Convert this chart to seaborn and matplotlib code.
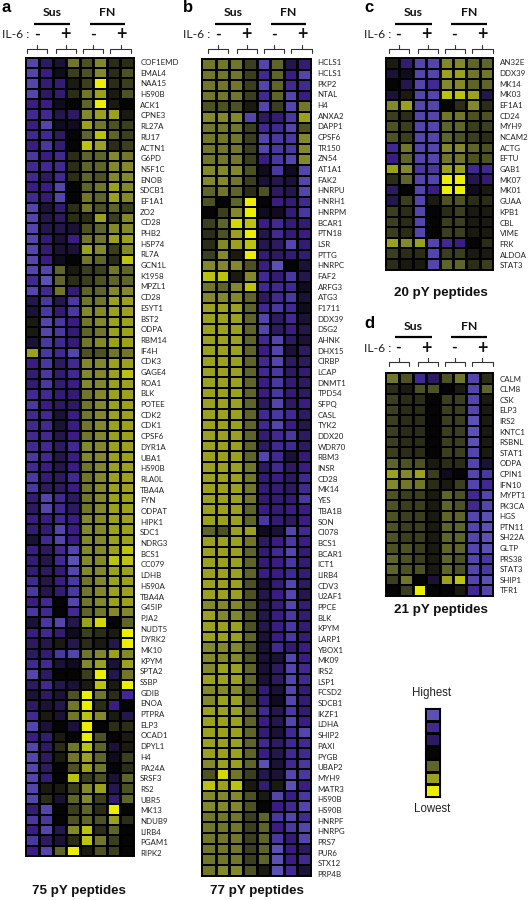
import numpy as np
import matplotlib
matplotlib.use("Agg")
import matplotlib.pyplot as plt
from matplotlib.colors import LinearSegmentedColormap
import seaborn as sns

# ---------- data (scale: +10 = highest / blue, -10 = lowest / yellow) ----------
labels_a = ["COF1EMD","EMAL4","NAA15","HS90B","ACK1","CPNE3","RL27A","RU17","ACTN1","G6PD","NSF1C","ENOB","SDCB1","EF1A1","ZO2","CD28","PHB2","HSP74","RL7A","GCN1L","K1958","MPZL1","CD28","ESYT1","BST2","ODPA","RBM14","IF4H","CDK3","GAGE4","ROA1","BLK","POTEE","CDK2","CDK1","CPSF6","DYR1A","UBA1","HS90B","RLA0L","TBA4A","FYN","ODPAT","HIPK1","SDC1","NDRG3","BCS1","CC079","LDHB","HS90A","TBA4A","G45IP","PJA2","NUDT5","DYRK2","MK10","KPYM","SPTA2","SSBP","GDIB","ENOA","PTPRA","ELP3","OCAD1","DPYL1","H4","PA24A","SRSF3","RS2","UBR5","MK13","NDUB9","LIRB4","PGAM1","RIPK2"]
labels_b = ["HCLS1","HCLS1","PKP2","NTAL","H4","ANXA2","DAPP1","CPSF6","TR150","ZN54","AT1A1","FAK2","HNRPU","HNRH1","HNRPM","BCAR1","PTN18","LSR","PTTG","HNRPC","FAF2","ARFG3","ATG3","F1711","DDX39","DSG2","AHNK","DHX15","CIRBP","LCAP","DNMT1","TPD54","SFPQ","CASL","TYK2","DDX20","WDR70","RBM3","INSR","CD28","MK14","YES","TBA1B","SON","CI078","BCS1","BCAR1","ICT1","LIRB4","CDV3","U2AF1","PPCE","BLK","KPYM","LARP1","YBOX1","MK09","IRS2","LSP1","FCSD2","SDCB1","IKZF1","LDHA","SHIP2","PAXI","PYGB","UBAP2","MYH9","MATR3","HS90B","HS90B","HNRPF","HNRPG","PRS7","PUR6","STX12","PRP4B"]
labels_c = ["AN32E","DDX39","MK14","MK03","EF1A1","CD24","MYH9","NCAM2","ACTG","EFTU","GAB1","MK07","MK01","GUAA","KPB1","CBL","VIME","FRK","ALDOA","STAT3"]
labels_d = ["CALM","CLM8","CSK","ELP3","IRS2","KNTC1","RSBNL","STAT1","ODPA","CPIN1","IFN10","MYPT1","PK3CA","HGS","PTN11","SH22A","GLTP","PRS38","STAT3","SHIP1","TFR1"]

values_a = [
[9,4,2,-6,-4,-7,-2,-2],[9,6,1,-3,-4,-7,-2,-4],[9,5,5,-1,-3,-10,-2,-3],[9,4,5,-2,-6,-8,-1,-4],
[6,6,1,0,-5,-10,-1,0],[7,7,3,4,-7,-8,-8,-1],[6,9,1,1,-8,-6,-4,-3],[7,7,4,0,-5,-9,-5,-3],
[6,8,5,0,-9,-8,-2,-3],[8,6,7,-2,-5,-5,-7,-6],[7,7,7,-2,-5,-5,-7,-7],[7,4,7,-2,-5,-4,-7,-7],
[6,6,9,0,-5,-6,-8,-7],[7,5,9,0,-6,-5,-8,-7],[9,2,5,-2,-6,-4,-5,-3],[9,3,4,-2,-2,-8,-3,-7],
[9,3,3,2,-4,-5,-7,-7],[9,5,2,6,-6,-6,-8,-8],[9,5,2,2,-8,-7,-3,-7],[9,6,1,0,-6,-5,-2,-9],
[9,9,-5,-1,-3,-3,-6,-5],[7,10,-5,-2,-3,-4,-5,-5],[9,7,-6,5,-5,-5,-7,-7],[3,8,3,8,-6,-6,-8,-8],
[2,8,5,8,-7,-7,-8,-8],[-1,9,8,6,-6,-7,-8,-8],[-1,9,8,5,-5,-6,-8,-8],[2,8,7,5,-6,-7,-8,-8],
[-8,8,7,9,-4,-4,-6,-6],[6,8,4,7,-7,-7,-8,-8],[5,8,5,7,-7,-7,-8,-9],[5,8,5,6,-7,-7,-8,-8],
[7,7,5,5,-6,-7,-8,-8],[8,6,4,4,-6,-7,-8,-8],[7,7,2,6,-6,-7,-8,-8],[7,7,2,6,-6,-7,-8,-8],
[7,7,3,6,-6,-7,-8,-8],[7,7,4,7,-7,-7,-8,-8],[8,7,3,6,-7,-7,-8,-8],[7,6,3,6,-6,-7,-8,-8],
[8,5,4,7,-6,-7,-8,-8],[8,4,4,6,-6,-7,-8,-8],[5,9,7,4,-6,-7,-8,-8],[4,9,7,4,-6,-7,-8,-8],
[6,6,7,6,-7,-7,-8,-8],[5,5,9,6,-7,-7,-8,-8],[2,7,9,6,-7,-7,-8,-8],[6,4,7,9,-7,-7,-8,-9],
[5,3,7,10,-7,-7,-9,-9],[5,4,5,9,-7,-7,-8,-8],[7,3,6,8,-6,-7,-8,-8],[8,3,5,8,-6,-7,-8,-8],
[6,7,0,9,-6,-7,-8,-8],[8,7,0,7,-5,-6,-7,-7],[2,8,9,3,-8,-9.5,0,-5],[6,7,5,1,-3,-2,-1,-10],
[4,3,-1,3,-2,-1,3,-10],[4,5,8,9,-6,-7,-8,-7],[7,7,2,1,-7,-8,2,-8],[9,4,0,0,-3,-10,3,-6],
[4,7,3,2,-1,-9,-1,-10],[2,4,2,-4,-10,-6,-2,7],[4,2,3,-6,-10,-2,6,0],[7,-1,2,-6,-9,-7,-1,3],
[9,2,0,2,-10,0,-2,-2],[6,5,-1,0,-10,-4,0,-1],[9,4,-2,-6,-9,-5,2,-1],[9,4,-1,-6,-8,-5,1,-3],
[9,4,0,-4,-8,-6,0,-2],[9,5,0,-9,-3,-4,2,-5],[9,-1,-1,-3,-7,-8,3,-4],[9,-2,2,-5,-7,-3,5,-5],
[5,9,0,-3,-5,-2,-10,0],[8,8,0,-4,-5,-4,-8,-2],[6,9,3,-7,-9,-2,-5,0],[8,4,2,-2,-9,-6,-3,0],
[6,9,-5,-10,-1,-4,-3,0],
]
values_b = [
[-6,-6,-6,-3,9,-5,3,5],[-6,-6,-6,-3,7,-5,6,9],[-6,-6,-6,-3,9,-5,7,7],[-6,-6,-6,-3,7,-5,9,6],
[-4,-4,-4,-1,9,-3,9,-6],[-7,-7,-7,9,4,5,8,-8],[-6,-6,-6,-3,7,7,9,-4],[-6,-6,-6,-3,9,8,8,-7],
[-6,-6,-6,-3,9,8,8,-7],[-6,-6,-6,-3,6,8,9,-7],[-7,-7,-7,-4,1,8,1,9],[-7,-7,-6,-3,2,3,2,9],
[-5,-6,-5,-2,-4,4,3,9],[-4,0,-5,-10,0,6,5,7],[0,-3,-7,-10,1,1,5,8],[-3,-5,-9.5,-9,6,7,5,5],
[-2,-4,-8,-10,3,7,5,6],[-2,-7,-8,-9,3,4,9,5],[-3,-7,-1,-10,5,4,5,5],[-7,-7,-7,-4,6,10,0,2],
[-9,-9,-1,-7,7,5,8,3],[-6,-5,-7,-9,7,7,7,1],[-7,-7,-7,-5,4,7,8,2],[-8,-8,-8,-5,7,8,7,1],
[-8,-8,-8,-5,9,4,7,2],[-8,-8,-8,-5,9,4,6,3],[-8,-8,-8,-5,7,9,4,2],[-8,-8,-8,-5,6,9,2,4],
[-8,-8,-8,-5,7,9,4,4],[-8,-8,-8,-5,7,8,4,5],[-8,-8,-8,-5,6,8,5,4],[-8,-8,-8,-5,6,8,5,4],
[-8,-8,-8,-5,4,9,4,6],[-8,-8,-8,-5,7,8,7,4],[-8,-8,-8,-5,7,9,6,3],[-8,-8,-8,-5,5,7,8,4],
[-8,-8,-8,-5,4,7,7,4],[-8,-8,-8,-5,9,7,2,5],[-8,-8,-8,-6,4,7,4,6],[-8,-8,-8,-6,5,6,4,7],
[-8,-8,-8,-6,5,5,4,7],[-8,-8,-8,-6,5,5,5,8],[-8,-8,-8,-5,6,5,6,6],[-8,-8,-8,-5,8,5,4,6],
[-5,-4,-8,-8,1,2,9,7],[-8,-8,-8,-6,4,6,8,6],[-8,-8,-8,-5,5,7,9,5],[-8,-8,-8,-5,5,6,8,5],
[-8,-8,-8,-5,6,6,7,5],[-8,-8,-8,-4,2,5,9,4],[-8,-8,-8,-4,3,6,9,3],[-7,-7,-7,-4,3,5,9,5],
[-8,-7,-7,-4,3,6,8,5],[-8,-8,-8,-4,3,6,8,5],[-8,-8,-8,-5,2,6,8,5],[-7,-7,-7,-4,2,7,5,6],
[-7,-7,-7,-4,2,2,9,6],[-7,-8,-8,-5,2,4,9,7],[-8,-8,-8,-5,2,4,9,7],[-7,-7,-7,-4,5,2,9,5],
[-7,-8,-8,-4,5,1,9,5],[-8,-8,-8,-5,7,3,8,5],[-8,-8,-8,-5,6,3,9,6],[-8,-8,-8,-5,5,2,7,9],
[-8,-8,-8,-5,7,4,7,7],[-8,-8,-8,-5,6,3,7,7],[-7,-8,-8,-5,10,2,7,8],[-4,-9.5,-6,-3,3,2,9,8],
[-9,-8,-9,-1,5,-1,10,6],[-7,-7,-7,-4,-1,9,6,8],[-7,-7,-7,-4,0,6,7,9],[-6,-6,-6,-3,-5,8,9,7],
[-6,-6,-6,-3,-5,6,8,9],[-6,-6,-6,-3,-5,8,5,9],[-6,-6,-6,-3,-5,10,6,4],[-6,-6,-6,-3,-5,10,6,7],
[-6,-7,-7,-4,-1,10,7,2],
]
values_c = [
[-1,5,9,9,-7,-7,-5,-5],[2,1,9,9,-8,-8,-6,-6],[0,3,9,7,-7,-7,-5,-5],[2,-1,9,9,-9,-9,-8,3],
[-7,-8,9,9,0,-2,-7,-2],[-3,-2,9,9,-6,-6,-4,-4],[-4,-3,9,9,-5,-5,-3,-3],[-4,-3,9,9,-5,-4,-3,-2],
[7,-6,9,9,-7,-7,-5,-4],[6,-5,9,9,-6,-6,-4,-4],[-8,-7,8,8,-8,-8,7,7],[-2,-5,9,9,-10,-10,3,5],
[4,0,9,6,-10,-10,1,-1],[3,-3,9,-1,-4,-4,-2,-2],[-3,-2,9,0,-2,-3,-1,-1],[-3,-2,9,0,-3,-3,-1,-1],
[-3,-2,9,0,-3,-3,-1,-1],[-8,-7,-8,9,7,6,0,-2],[-3,-2,-2,9,-3,-3,-1,-1],[-2,-1,-1,9,-5,-5,-2,-3],
]
values_d = [
[-6,-4,7,4,-4,-6,9,-2],[-2,-1,-4,-4,0,-1,9,-5],[-3,-2,-2,0,-3,-3,9,-1],[-3,-2,-2,0,-3,-3,9,-1],
[-3,-2,-2,0,-3,-3,10,-1],[-3,-2,-2,0,-3,-3,10,-1],[-3,-2,-2,0,-3,-3,10,-1],[-3,-2,-2,0,-3,-3,9,-1],
[-5,-4,-4,-1,-2,-2,9,2],[-8,-7,-8,-3,1,0,9,8],[-7,-6,-6,-2,-1,-3,9,7],[-4,-3,-3,-1,-5,-4,7,9],
[-4,-3,-3,-1,-5,-4,7,9],[-4,-3,-3,-1,-5,-5,9,10],[-4,-3,-3,-1,-5,-5,9,10],[-4,-3,-3,-1,-5,-5,9,10],
[-4,-4,-3,-1,-5,-5,9,10],[-5,-4,-3,-1,-5,-4,9,8],[-5,-4,-4,-1,-5,-4,9,8],[-3,-6,0,2,-8,-9,9,10],
[0,-3,-10,0,0,-1,7,9],
]
legend_values = [[10],[7],[4],[0],[-5],[-8],[-10]]

titles = ["75 pY peptides", "77 pY peptides", "20 pY peptides", "21 pY peptides"]
group_names = ["Sus", "FN"]
il6_signs = ["-", "+", "-", "+"]

# ---------- style ----------
anchors = [(-10,"#ecee00"),(-9,"#b9c010"),(-8,"#9aa01e"),(-7,"#83882a"),(-5,"#5f6428"),(-3,"#3c3f1e"),
           (-1,"#1a1a10"),(0,"#050505"),(2,"#1c1238"),(4,"#2e1a60"),(6,"#3a1c84"),(8,"#4a36a0"),(10,"#5d50b5")]
cmap = LinearSegmentedColormap.from_list("hl", [((v + 10) / 20, c) for v, c in anchors])

sns.set_theme(style="white")
W, H = 528, 900
fig = plt.figure(figsize=(W / 100, H / 100), dpi=100, facecolor="white")
overlay = fig.add_axes([0, 0, 1, 1], zorder=5)
overlay.set_xlim(0, W); overlay.set_ylim(H, 0); overlay.axis("off"); overlay.patch.set_alpha(0)

HEAD_FONT = "Lato"
LABEL_FONT = "Lato"
TITLE_FONT = "Liberation Sans"

def panel(values, labels, box, label_first, label_pitch):
    left, top, right, bottom = box
    arr = np.array(values, dtype=float)
    ax = fig.add_axes([left / W, 1 - bottom / H, (right - left) / W, (bottom - top) / H])
    sns.heatmap(arr, ax=ax, cmap=cmap, vmin=-10, vmax=10, cbar=False,
                linewidths=1.4, linecolor="black", xticklabels=False, yticklabels=False)
    ax.vlines(range(1, arr.shape[1]), 0, arr.shape[0], color="black", lw=2.0)
    row_h = (bottom - top) / len(values)
    ticks = [(label_first + i * label_pitch - top) / row_h for i in range(len(labels))]
    ax.yaxis.tick_right()
    ax.set_yticks(ticks)
    ax.set_yticklabels(labels, fontsize=5.7, family=LABEL_FONT, color="#222222")
    ax.tick_params(axis="y", length=0, pad=4.8, right=False, left=False)
    ax.set_xlabel(""); ax.set_ylabel("")
    for s in ax.spines.values():
        s.set_visible(True); s.set_color("black"); s.set_linewidth(1.4)
    return ax

def header(dx, dy, letter, lx, ly):
    overlay.text(lx, ly, letter, fontsize=12, fontweight="bold", family=TITLE_FONT, ha="left", va="center", color="black")
    for name, a, b in [(group_names[0], 33.5, 70), (group_names[1], 89.5, 125)]:
        overlay.text((a + b) / 2 + dx, 13 + dy, name, fontsize=8.8, fontweight="bold", family=HEAD_FONT, ha="center", va="center", color="#111111")
        overlay.plot([a + dx, b + dx], [24 + dy, 24 + dy], color="black", lw=1.6, solid_capstyle="butt")
    overlay.text(2 + dx, 35 + dy, "IL-6 :", fontsize=8.8, family=HEAD_FONT, ha="left", va="center", color="#222222")
    for sign, x in zip(il6_signs, [37, 65, 93, 121]):
        overlay.text(x + dx, 35 + dy, sign, fontsize=13 if sign == "+" else 11, fontweight="bold", family=HEAD_FONT, ha="center", va="center", color="#111111")
    for a, b in [(27, 47), (56, 76), (83, 103), (110, 131)]:
        c = (a + b) / 2
        overlay.plot([a + dx, a + dx, b + dx, b + dx], [53 + dy, 49 + dy, 49 + dy, 53 + dy], color="#333333", lw=0.8)
        overlay.plot([c + dx, c + dx], [44.5 + dy, 49 + dy], color="#333333", lw=0.8)

panel(values_a, labels_a, (26, 57.5, 133.5, 856), 62, 10.69)
panel(values_b, labels_b, (202, 59, 311, 875.5), 62.3, 10.68)
panel(values_c, labels_c, (386, 58, 493, 269.5), 62.3, 10.68)
panel(values_d, labels_d, (386, 373, 493, 596), 378.7, 10.58)

header(0, 0, "a", 2, 8)
header(181, 0, "b", 183, 8)
header(361.5, 0, "c", 364, 8)
header(361.5, 313, "d", 364, 323)

for t, x, y in zip(titles, [79, 257, 441, 441], [891, 891, 293, 610]):
    overlay.text(x, y, t, fontsize=9.6, fontweight="bold", family=TITLE_FONT, ha="center", va="center", color="#111111")

# legend
lax = fig.add_axes([425 / W, 1 - 797 / H, 15 / W, 89 / H])
sns.heatmap(np.array(legend_values, dtype=float), ax=lax, cmap=cmap, vmin=-10, vmax=10, cbar=False,
            linewidths=0.8, linecolor="black", xticklabels=False, yticklabels=False)
for s in lax.spines.values():
    s.set_visible(True); s.set_color("black"); s.set_linewidth(0.8)
overlay.text(432, 693, "Highest", fontsize=8.3, family=TITLE_FONT, ha="center", va="center", color="#222222")
overlay.text(432, 809, "Lowest", fontsize=8.3, family=TITLE_FONT, ha="center", va="center", color="#222222")

fig.savefig("out.png", dpi=100)
